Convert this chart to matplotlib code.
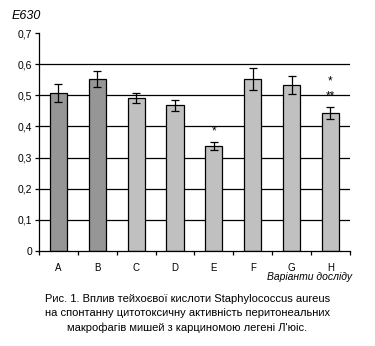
import matplotlib
matplotlib.use("Agg")
import matplotlib.pyplot as plt
import numpy as np

plt.rcParams['font.family'] = ['Liberation Sans', 'DejaVu Sans']

# data
groups = ['A', 'B', 'C', 'D', 'E', 'F', 'G', 'H']
values = [0.507, 0.552, 0.491, 0.468, 0.338, 0.552, 0.533, 0.443]
errors = [0.030, 0.026, 0.017, 0.018, 0.013, 0.036, 0.028, 0.019]
colors = ['#969696', '#969696', '#c0c0c0', '#c0c0c0', '#c0c0c0', '#c0c0c0', '#c0c0c0', '#c0c0c0']
yticks = [0, 0.1, 0.2, 0.3, 0.4, 0.5, 0.6, 0.7]
ylabels = ['0', '0,1', '0,2', '0,3', '0,4', '0,5', '0,6', '0,7']
marks = [('E', 0.385, '*'), ('H', 0.545, '*'), ('H', 0.495, '**')]

caption = ("Рис. 1. Вплив тейхоєвої кислоти Staphylococcus aureus\n"
           "на спонтанну цитотоксичну активність перитонеальних\n"
           "макрофагів мишей з карциномою легені Л'юіс.")

fig = plt.figure(figsize=(3.75, 3.46), dpi=100)
ax = fig.add_axes([0.104, 0.2746, 0.829, 0.63])

x = np.arange(len(groups))
for g in [0.1, 0.2, 0.3, 0.4, 0.5, 0.6]:
    ax.axhline(g, color='black', lw=0.9, zorder=0)
ax.bar(x, values, width=0.44, color=colors, edgecolor='black', linewidth=0.9, zorder=2)
ax.errorbar(x, values, yerr=errors, fmt='none', ecolor='black', elinewidth=0.9,
            capsize=3, capthick=0.9, zorder=3)

for g, y, s in marks:
    ax.text(groups.index(g), y, s, ha='center', va='center', fontsize=8.5)

ax.set_xlim(-0.5, len(groups) - 0.5)
ax.set_ylim(0, 0.7)
ax.set_yticks(yticks)
ax.set_yticklabels(ylabels, fontsize=7.5)
ax.set_xticks(x)
ax.set_xticklabels(groups, fontsize=7)
ax.set_xticks(np.arange(len(groups) + 1) - 0.5, minor=True)
ax.tick_params(axis='x', which='major', length=0, pad=9)
ax.tick_params(axis='x', which='minor', length=3, width=0.9, direction='out')
ax.tick_params(axis='y', length=3, width=0.9, pad=2)

for s in ['top', 'right']:
    ax.spines[s].set_visible(False)
for s in ['left', 'bottom']:
    ax.spines[s].set_linewidth(0.9)

fig.text(0.032, 0.955, 'E630', fontsize=9, style='italic', ha='left', va='center')
fig.text(0.94, 0.199, 'Варіанти досліду', fontsize=7.5, style='italic', ha='right', va='center')
fig.text(0.5, 0.093, caption, fontsize=8, ha='center', va='center', linespacing=1.5)

fig.savefig('out.png', dpi=100)
